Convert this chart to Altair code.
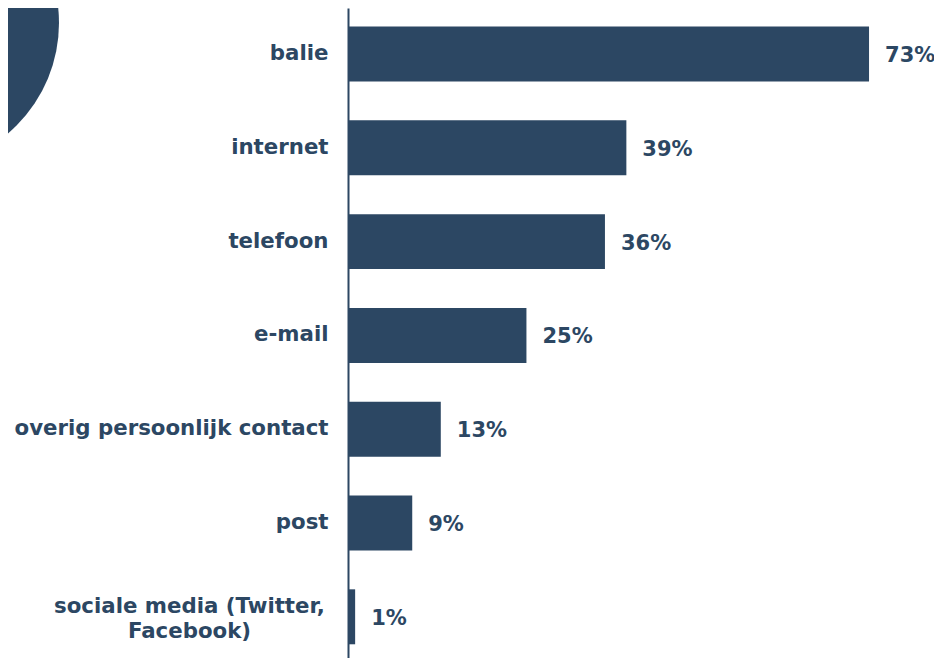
import altair as alt
import pandas as pd

categories = ["balie", "internet", "telefoon", "e-mail", "overig persoonlijk contact",
              "post", "sociale media (Twitter, Facebook)"]
values = [73, 39, 36, 25, 13, 9, 1]

COLOR = "#2C4763"
FONT = "DejaVu Sans"

df = pd.DataFrame({"kanaal": categories, "pct": values})
df["label"] = df["pct"].astype(str) + "%"

label_expr = ("datum.label == 'sociale media (Twitter, Facebook)' ? "
              "['sociale media (Twitter,', 'Facebook)'] : datum.label")
cond = "datum.value == 'sociale media (Twitter, Facebook)'"

y_enc = alt.Y(
    "kanaal:N",
    sort=categories,
    title=None,
    scale=alt.Scale(paddingInner=0.414, paddingOuter=0.172, align=0.575),
    axis=alt.Axis(
        labelFont=FONT,
        labelFontWeight="bold",
        labelFontSize=21.3,
        labelColor=COLOR,
        labelExpr=label_expr,
        labelLineHeight=25,
        labelLimit=400,
        labelAlign=alt.condition(cond, alt.value("center"), alt.value("right")),
        labelPadding=alt.condition(cond, alt.value(159), alt.value(20)),
        labelOffset=alt.condition(cond, alt.value(-10), alt.value(0)),
        ticks=False,
        domainColor=COLOR,
        domainWidth=2,
        grid=False,
    ),
)

x_enc = alt.X("pct:Q", axis=None, scale=alt.Scale(domain=[0, 80], nice=False))

bars = alt.Chart(df).mark_bar(color=COLOR).encode(x=x_enc, y=y_enc)

texts = alt.Chart(df).mark_text(
    align="left", baseline="middle", dx=16, dy=2,
    font=FONT, fontWeight="bold", fontSize=21, color=COLOR,
).encode(x=x_enc, y=y_enc, text="label:N")

deco = alt.Chart(pd.DataFrame({"d": [1]})).mark_point(
    shape="circle", filled=True, opacity=1, color=COLOR, size=84100,
).encode(x=alt.value(-434), y=alt.value(15))

chart = alt.layer(deco, bars, texts).properties(
    width=571,
    height=650,
    autosize=alt.AutoSizeParams(type="none"),
    padding={"left": 340, "top": 0, "right": 15, "bottom": 0},
).configure_view(stroke=None)

chart.save("out.html", embed_options={"renderer": "svg", "actions": False})
